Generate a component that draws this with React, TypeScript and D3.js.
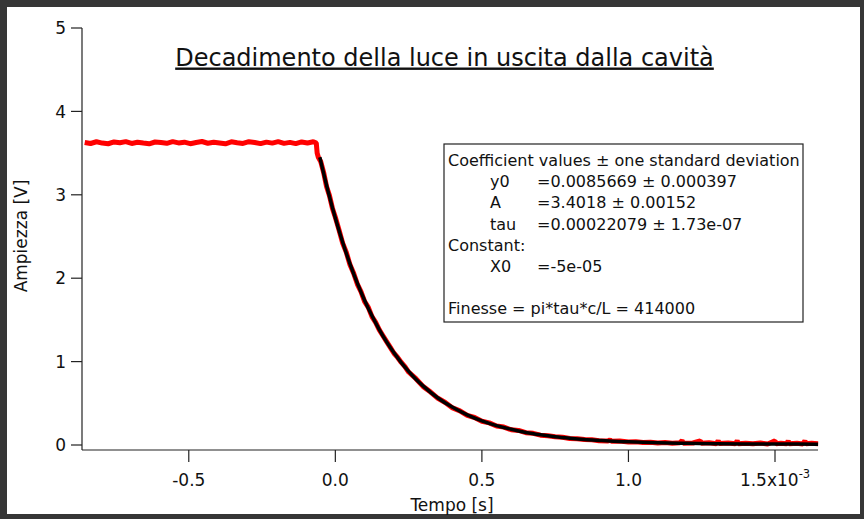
import * as d3 from 'd3';
import React from 'react';

// time in ms (axis is seconds x10^-3), amplitude in V
const redTime = [
  -0.855, -0.835, -0.815, -0.795, -0.775, -0.755, -0.735, -0.715, -0.695, -0.675, -0.655, -0.635, -0.615,
  -0.595, -0.575, -0.555, -0.535, -0.515, -0.495, -0.475, -0.455, -0.435, -0.415, -0.395, -0.375, -0.355,
  -0.335, -0.315, -0.295, -0.275, -0.255, -0.235, -0.215, -0.195, -0.175, -0.155, -0.135, -0.115, -0.095,
  -0.075, -0.065, -0.062, -0.058,
  -0.05, -0.04, -0.03, -0.02, -0.01, 0.0, 0.0125, 0.025, 0.0375, 0.05, 0.0625, 0.075, 0.0875, 0.1, 0.1125,
  0.125, 0.1375, 0.15, 0.1625, 0.175, 0.1875, 0.2, 0.2125, 0.225, 0.2375, 0.25, 0.275, 0.3, 0.325, 0.35,
  0.375, 0.4, 0.425, 0.45, 0.475, 0.5, 0.525, 0.55, 0.575, 0.6, 0.625, 0.65, 0.675, 0.7, 0.725,
  0.75, 0.775, 0.8, 0.825, 0.85, 0.875, 0.9, 0.93, 0.937, 0.942, 0.97, 1.0, 1.025, 1.05, 1.075,
  1.1, 1.125, 1.15, 1.175, 1.183, 1.187, 1.22, 1.245, 1.249, 1.275, 1.3, 1.306, 1.31, 1.34, 1.365,
  1.371, 1.375, 1.4, 1.425, 1.45, 1.475, 1.5, 1.504, 1.52, 1.54, 1.545, 1.549, 1.575, 1.595, 1.602,
  1.606, 1.625, 1.647,
];
const redVolts = [
  3.628, 3.615, 3.636, 3.62, 3.612, 3.634, 3.624, 3.638, 3.616, 3.63, 3.62, 3.611, 3.633,
  3.626, 3.617, 3.637, 3.622, 3.631, 3.613, 3.627, 3.639, 3.618, 3.63, 3.621, 3.612, 3.635,
  3.624, 3.616, 3.637, 3.628, 3.614, 3.632, 3.62, 3.638, 3.617, 3.629, 3.613, 3.634, 3.622,
  3.636, 3.62, 3.5, 3.45,
  3.4, 3.27, 3.1, 2.99, 2.84, 2.73, 2.58, 2.42, 2.31, 2.16, 2.06, 1.93, 1.84, 1.72, 1.65,
  1.54, 1.47, 1.38, 1.31, 1.24, 1.17, 1.1, 1.05, 0.99, 0.94, 0.875, 0.795, 0.7, 0.635, 0.56,
  0.51, 0.445, 0.41, 0.355, 0.33, 0.285, 0.265, 0.228, 0.215, 0.183, 0.175, 0.148, 0.14, 0.118, 0.112,
  0.098, 0.092, 0.078, 0.075, 0.066, 0.062, 0.052, 0.048, 0.062, 0.045, 0.047, 0.035, 0.04, 0.03, 0.034,
  0.025, 0.03, 0.022, 0.026, 0.052, 0.022, 0.024, 0.05, 0.02, 0.026, 0.016, 0.052, 0.018, 0.025, 0.014,
  0.05, 0.016, 0.022, 0.014, 0.024, 0.012, 0.05, 0.016, 0.02, 0.014, 0.05, 0.015, 0.02, 0.012, 0.05,
  0.014, 0.02, 0.016,
];

// fitted exponential (black)
const fitTime = [
  -0.053, -0.025, 0, 0.025, 0.05, 0.075, 0.1, 0.125, 0.15, 0.175, 0.2, 0.225, 0.25, 0.275, 0.3,
  0.35, 0.4, 0.45, 0.5, 0.55, 0.6, 0.65, 0.7, 0.75, 0.8, 0.85, 0.9, 0.95, 1.0, 1.1, 1.2, 1.3, 1.4, 1.5, 1.647,
];
const fitVolts = [
  3.45, 3.046, 2.721, 2.431, 2.172, 1.94, 1.733, 1.549, 1.384, 1.236, 1.105, 0.988, 0.883, 0.789, 0.706,
  0.564, 0.452, 0.362, 0.29, 0.233, 0.188, 0.151, 0.1225, 0.099, 0.081, 0.066, 0.055, 0.045, 0.038, 0.027, 0.02, 0.016, 0.013, 0.012, 0.01,
];

const xTicks = [-0.5, 0, 0.5, 1.0, 1.5];
const yTicks = [0, 1, 2, 3, 4, 5];

const title = 'Decadimento della luce in uscita dalla cavità';
const fitLines = [
  { indent: false, name: 'Coefficient values ± one standard deviation', value: '' },
  { indent: true, name: 'y0', value: '=0.0085669 ± 0.000397' },
  { indent: true, name: 'A', value: '=3.4018 ± 0.00152' },
  { indent: true, name: 'tau', value: '=0.00022079 ± 1.73e-07' },
  { indent: false, name: 'Constant:', value: '' },
  { indent: true, name: 'X0', value: '=-5e-05' },
  { indent: false, name: '', value: '' },
  { indent: false, name: 'Finesse = pi*tau*c/L = 414000', value: '' },
];

const W = 864;
const H = 519;
const font = '"DejaVu Sans", sans-serif';

export default function App() {
  const x = d3.scaleLinear().domain([-0.8643, 1.6467]).range([82, 818]);
  const y = d3.scaleLinear().domain([0, 5]).range([445, 28]);

  const red = redTime.map((t, i) => [t, redVolts[i]] as [number, number]);
  const fit = fitTime.map((t, i) => [t, fitVolts[i]] as [number, number]);

  const rawLine = d3.line<[number, number]>().x((d) => x(d[0])).y((d) => y(d[1]));
  const fitLine = d3.line<[number, number]>().x((d) => x(d[0])).y((d) => y(d[1])).curve(d3.curveMonotoneX);

  const axisY = 450;
  const axisX = 82;

  return (
    <svg width={W} height={H} style={{ position: 'absolute', left: 0, top: 0 }} fontFamily={font}>
      {/* dark screenshot frame */}
      <rect x={0} y={0} width={W} height={H} fill="#363636" />
      <rect x={7} y={7} width={853} height={507} fill="#ffffff" />

      <text x={444.5} y={65.5} textAnchor="middle" fontSize={24} textDecoration="underline" fill="#111">
        {title}
      </text>

      {/* data */}
      <path d={rawLine(red) ?? ''} fill="none" stroke="#ff0000" strokeWidth={5} strokeLinejoin="bevel" />
      <path d={fitLine(fit) ?? ''} fill="none" stroke="#000" strokeWidth={3.5} />

      {/* y axis */}
      <line x1={axisX} x2={axisX} y1={y(5)} y2={axisY} stroke="#222" strokeWidth={1.2} />
      {yTicks.map((t) => (
        <g key={t}>
          <line x1={axisX - 11} x2={axisX} y1={y(t)} y2={y(t)} stroke="#222" strokeWidth={1.2} />
          <text x={66} y={y(t)} dy="0.36em" textAnchor="end" fontSize={17} fill="#111">
            {t}
          </text>
        </g>
      ))}
      <text
        transform={`translate(21,236) rotate(-90)`}
        textAnchor="middle"
        dy="0.36em"
        fontSize={17}
        fill="#111"
      >
        Ampiezza [V]
      </text>

      {/* x axis */}
      <line x1={axisX} x2={x(1.6467)} y1={axisY} y2={axisY} stroke="#222" strokeWidth={1.2} />
      {xTicks.map((t) => (
        <g key={t}>
          <line x1={x(t)} x2={x(t)} y1={axisY} y2={axisY + 12} stroke="#222" strokeWidth={1.2} />
          <text x={x(t)} y={486} textAnchor="middle" fontSize={17} fill="#111">
            {t === 1.5 ? (
              <>
                1.5x10<tspan fontSize={11.5} dy={-8}>-3</tspan>
              </>
            ) : (
              t.toFixed(1)
            )}
          </text>
        </g>
      ))}
      <text x={452} y={511} textAnchor="middle" fontSize={17} fill="#111">
        Tempo [s]
      </text>

      {/* fit annotation box */}
      <rect x={444} y={144} width={359} height={178} fill="#fff" stroke="#222" strokeWidth={1.2} />
      {fitLines.map((l, i) => (
        <g key={i} fontSize={16} fill="#111">
          <text x={l.indent ? 490 : 448} y={166 + i * 21.2}>
            {l.name}
          </text>
          {l.value && (
            <text x={537} y={166 + i * 21.2}>
              {l.value}
            </text>
          )}
        </g>
      ))}
    </svg>
  );
}
